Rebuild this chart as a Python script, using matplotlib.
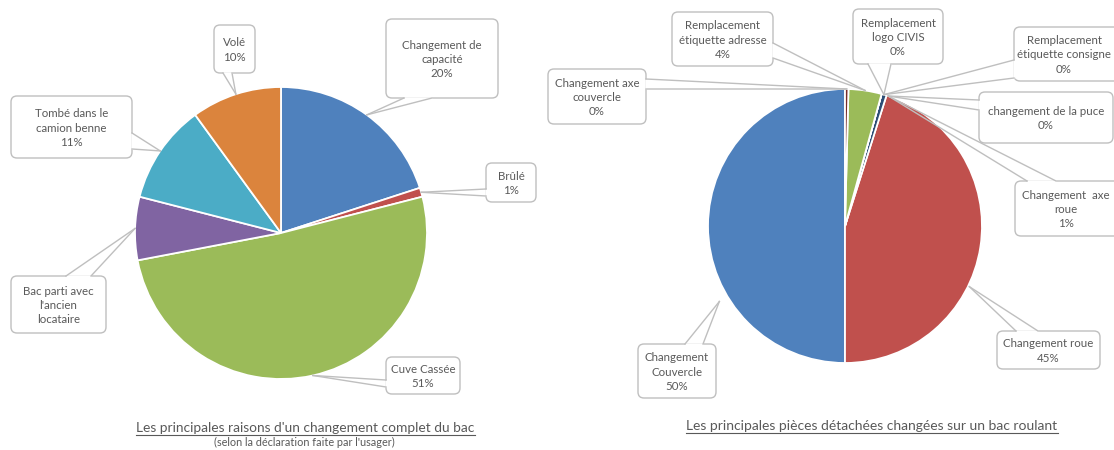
import matplotlib
matplotlib.use("Agg")
import matplotlib.pyplot as plt
from matplotlib.patches import FancyBboxPatch
import numpy as np

# ---------------- data ----------------
reasons = ["Changement de\ncapacité", "Brûlé", "Cuve Cassée",
           "Bac parti avec\nl'ancien\nlocataire", "Tombé dans le\ncamion benne", "Volé"]
reason_pct = [20, 1, 51, 7, 11, 10]
reason_show_pct = [True, True, True, False, True, True]

parts = ["Changement\nCouvercle", "Changement roue", "Changement  axe\nroue",
         "changement de la puce", "Remplacement\nétiquette consigne",
         "Remplacement\nlogo CIVIS", "Remplacement\nétiquette adresse",
         "Changement axe\ncouvercle"]
part_pct = [50.0, 45.1, 0.6, 0.0, 0.0, 0.0, 3.9, 0.4]

title_left = "Les principales raisons d'un changement complet du bac"
subtitle_left = "(selon la déclaration faite par l'usager)"
title_right = "Les principales pièces détachées changées sur un bac roulant"

# ---------------- style / layout ----------------
W, H, DPI = 1114, 450, 100
FONT = "Lato"
TXT = "#595959"
EDGE = "#BFBFBF"
LABEL_FS = 8.3
left_colors = ["#4F81BD", "#C0504D", "#9BBB59", "#8064A2", "#4BACC6", "#DB843D"]
right_colors = ["#4F81BD", "#C0504D", "#2C4D75", "#8064A2", "#4BACC6",
                "#F79646", "#9BBB59", "#772C2A"]

# callout layout: box (x0, y0, x1, y1) px, side of pointer base, base span,
# optional target angle / radius factor / text centre x
left_callouts = [
    dict(box=(386, 19, 498, 98), side="bottom", base=(404, 432)),
    dict(box=(486, 163, 536, 202), side="left", base=(189, 196)),
    dict(box=(386, 357, 460, 394), side="left", base=(380, 387)),
    dict(box=(11, 276, 106, 333), side="top", base=(66, 91)),
    dict(box=(11, 96, 132, 158), side="right", base=(133, 149)),
    dict(box=(214, 25, 255, 73), side="bottom", base=(223, 232)),
]
right_callouts = [
    dict(box=(638, 344, 716, 398), side="top", base=(685, 703), angle=211, rf=1.07),
    dict(box=(997, 331, 1100, 369), side="top", base=(1016, 1038), angle=-26, rf=1.01),
    dict(box=(1015, 181, 1122, 236), side="top", base=(1027, 1056), angle=71.6, tx=1066),
    dict(box=(979, 92, 1113, 143), side="left", base=(100, 110), angle=71.6),
    dict(box=(1014, 27, 1130, 81), side="left", base=(60, 78), angle=73.5, tx=1064),
    dict(box=(853, 9, 943, 64), side="bottom", base=(868, 891), angle=73.5),
    dict(box=(672, 12, 773, 66), side="right", base=(43, 58)),
    dict(box=(548, 69, 646, 124), side="right", base=(79, 89)),
]

fig = plt.figure(figsize=(W / DPI, H / DPI), dpi=DPI)
fig.patch.set_facecolor("white")

ov = fig.add_axes([0, 0, 1, 1], zorder=5)
ov.set_xlim(0, W)
ov.set_ylim(H, 0)
ov.axis("off")
ov.patch.set_alpha(0)

LIM = 1.02


def pie_axes(cx, cy, R):
    s = R * LIM
    return fig.add_axes([(cx - s) / W, 1 - (cy + s) / H, 2 * s / W, 2 * s / H])


def callout(box, side, base, target, text, tx=None):
    x0, y0, x1, y1 = box
    ov.add_patch(FancyBboxPatch((x0, y0), x1 - x0, y1 - y0,
                                boxstyle="round,pad=0,rounding_size=6",
                                fc="white", ec=EDGE, lw=1.0, zorder=3))
    if side == "bottom":
        p1, p2 = (base[0], y1), (base[1], y1)
    elif side == "top":
        p1, p2 = (base[0], y0), (base[1], y0)
    elif side == "left":
        p1, p2 = (x0, base[0]), (x0, base[1])
    else:
        p1, p2 = (x1, base[0]), (x1, base[1])
    ov.plot([p1[0], p2[0]], [p1[1], p2[1]], color="white", lw=1.8, zorder=3.2,
            solid_capstyle="butt")
    for p in (p1, p2):
        ov.plot([p[0], target[0]], [p[1], target[1]], color=EDGE, lw=1.0, zorder=4)
    cxt = (x0 + x1) / 2 if tx is None else tx
    ov.text(cxt, (y0 + y1) / 2 + 1, text, ha="center", va="center",
            fontsize=LABEL_FS, color=TXT, family=FONT, linespacing=1.35, zorder=5)


def draw_pie(cx, cy, R, values, colors, counterclock, labels, show, layout):
    ax = pie_axes(cx, cy, R)
    wedges, _ = ax.pie(values, colors=colors, startangle=90, counterclock=counterclock,
                       radius=1, wedgeprops=dict(edgecolor="white", linewidth=1.3))
    ax.set_xlim(-LIM, LIM)
    ax.set_ylim(-LIM, LIM)
    ax.set_aspect("auto")
    for w, v, lab, sh, lay in zip(wedges, values, labels, show, layout):
        ang = lay.get("angle", (w.theta1 + w.theta2) / 2)
        rf = lay.get("rf", 1.0)
        tx = cx + R * rf * np.cos(np.radians(ang))
        ty = cy - R * rf * np.sin(np.radians(ang))
        txt = f"{lab}\n{v:.0f}%" if sh else lab
        callout(lay["box"], lay["side"], lay["base"], (tx, ty), txt, lay.get("tx"))


draw_pie(281, 233, 146, reason_pct, left_colors, False, reasons, reason_show_pct,
         left_callouts)
draw_pie(845, 226, 137, part_pct, right_colors, True, parts, [True] * len(parts),
         right_callouts)

# titles
t1 = ov.text(305.5, 432, title_left, ha="center", va="baseline", fontsize=9.9,
             color=TXT, family=FONT, zorder=5)
ov.text(304, 446, subtitle_left, ha="center", va="baseline", fontsize=7.8,
        color=TXT, family=FONT, zorder=5)
t2 = ov.text(872, 430, title_right, ha="center", va="baseline", fontsize=10.0,
             color=TXT, family=FONT, zorder=5)

fig.canvas.draw()
r = fig.canvas.get_renderer()
inv = ov.transData.inverted()
for t, yline in ((t1, 435), (t2, 433)):
    bb = t.get_window_extent(renderer=r)
    (xa, _), (xb, _) = inv.transform([(bb.x0, bb.y0), (bb.x1, bb.y0)])
    ov.plot([xa, xb], [yline, yline], color=TXT, lw=0.8, zorder=5)

fig.savefig("out.png", dpi=DPI, facecolor="white")
